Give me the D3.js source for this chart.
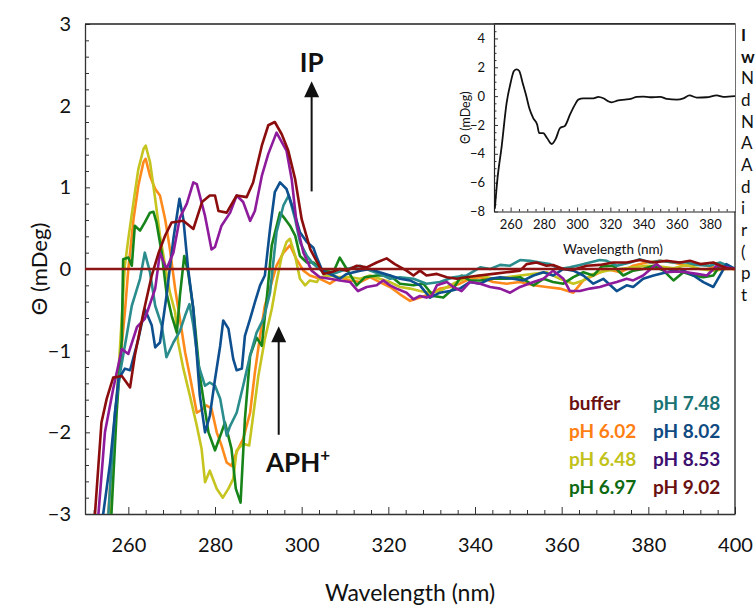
<!DOCTYPE html>
<html><head><meta charset="utf-8">
<script src="https://cdn.jsdelivr.net/npm/d3@7"></script>
<style>body{margin:0;background:#fff;overflow:hidden}svg{display:block}</style>
</head><body>
<svg id="c" width="756" height="605"></svg>
<script>
// ---------- data ----------
const seriesNames = ["buffer","pH 6.02","pH 6.48","pH 6.97","pH 7.48","pH 8.02","pH 8.53","pH 9.02"];
const xTicks = [260,280,300,320,340,360,380,400];
const yTicks = [-3,-2,-1,0,1,2,3];
const insetXTicks = [260,280,300,320,340,360,380];
const insetYTicks = [-8,-6,-4,-2,0,2,4];

const buffer = [[250,0],[400,0]];
const ph602 = [[254.9,-3.5],[255.4,-3],[256.5,-2.08],[258.1,-1.14],[259.2,-0.53],[260,0],[261.2,0.61],[262.3,1.02],[263.5,1.31],[264,1.35],[265,1.14],[266.2,0.98],[267.3,0.9],[268.5,0.61],[269.6,0.24],[270.8,-0.24],[271.9,-0.61],[273.1,-1.02],[274.2,-1.31],[275.8,-1.76],[277.3,-1.71],[278,-1.67],[279.2,-1.71],[280.4,-2],[281.5,-2.16],[282.7,-2.37],[283.8,-2.41],[285,-2.24],[286.5,-2.08],[288.1,-1.76],[289.2,-1.27],[290.4,-0.82],[291.5,-0.45],[293.1,-0.16],[294.2,0.04],[295.8,0.2],[297.3,0.29],[298.8,0.12],[300.4,-0.02],[301.9,-0.08],[304.2,-0.12],[306.5,-0.18],[308.8,-0.1],[311.2,-0.14],[313.5,-0.16],[315.8,-0.1],[318,-0.16],[320.4,-0.22],[322.7,-0.31],[325,-0.39],[327.3,-0.35],[329.6,-0.31],[331.9,-0.24],[334.2,-0.22],[336.5,-0.18],[338.8,-0.12],[341.2,-0.1],[344.2,-0.16],[347.3,-0.18],[350.4,-0.16],[353.5,-0.2],[356.5,-0.22],[359.6,-0.24],[362.7,-0.29],[365,-0.14],[367.3,-0.08],[370.4,0],[373.5,-0.04],[376.5,0.04],[379.6,0.08],[382.7,0.1],[385.8,0.08],[388.8,0.04],[391.9,0.06],[395,0.02],[398,0.01],[400,0]];
const ph648 = [[255.3,-3.5],[255.8,-3],[256.9,-1.96],[258.1,-0.94],[259.2,0.04],[260,0.37],[261.2,0.82],[262.3,1.22],[263.5,1.47],[264,1.51],[265,1.31],[266.2,0.86],[267.3,0.41],[268.5,0.04],[269.6,-0.29],[270.8,-0.53],[271.5,-0.9],[272.7,-1.22],[274.2,-1.55],[275.8,-1.92],[276.9,-2.2],[277.7,-2.61],[278.8,-2.47],[280.4,-2.69],[281.8,-2.8],[283.1,-2.69],[284.2,-2.57],[285,-2.22],[286.5,-2.14],[287.9,-2.16],[288.8,-1.8],[290,-1.31],[291.5,-0.86],[293.1,-0.49],[294.2,-0.16],[295.4,0.16],[296.5,0.33],[297.3,0.37],[298.5,0.16],[299.6,-0.12],[300.8,-0.2],[301.9,-0.14],[303.5,-0.16],[304.2,-0.1],[306.5,-0.08],[308.8,-0.1],[311.2,-0.1],[313.5,-0.12],[315.8,-0.08],[318,-0.12],[320.4,-0.16],[322.7,-0.22],[325,-0.24],[327.3,-0.27],[329.6,-0.29],[331.9,-0.27],[334.2,-0.2],[336.5,-0.14],[338.8,-0.1],[341.2,-0.08],[344.2,-0.12],[347.3,-0.1],[350.4,-0.08],[353.5,-0.06],[356.5,-0.04],[359.6,-0.12],[362.7,-0.18],[365,-0.14],[367.3,-0.06],[370.4,-0.02],[373.5,0],[376.5,0.02],[379.6,0.04],[382.7,0.03],[385.8,0.01],[388.8,0.05],[391.9,0],[395,-0.02],[398,0],[400,0]];
const ph697 = [[255.6,-3.5],[256.1,-3],[257.3,-1.76],[258.5,-0.86],[258.8,0.12],[260,0.14],[260.8,0.04],[261.5,0.53],[262.7,0.47],[263.8,0.57],[265,0.69],[265.8,0.7],[266.5,0.57],[267.7,0.2],[268.8,-0.29],[270,-0.57],[271.2,-0.78],[271.9,-0.33],[272.9,0.16],[273.8,-0.04],[275,-0.49],[276.5,-1.31],[278.5,-2],[280,-2.22],[281.5,-2],[282.3,-1.88],[283.8,-2.2],[284.8,-2.69],[285.9,-2.86],[286.9,-1.84],[288.1,-1.06],[289.6,-0.84],[290.8,-0.94],[292,-0.33],[293.1,0.29],[295,0.69],[296.2,0.61],[297.3,0.53],[298.5,0.41],[299.6,0.16],[301.2,0.08],[302.7,0.08],[305,-0.02],[307.3,-0.04],[308.8,0.14],[310.4,0],[312.7,-0.2],[314.6,-0.1],[317.3,-0.08],[320.4,-0.08],[322.7,-0.18],[325.8,-0.2],[328.1,-0.18],[330.4,-0.33],[332.7,-0.35],[335,-0.24],[336.9,-0.08],[338.8,-0.14],[341.2,-0.14],[344.2,-0.12],[347.3,-0.12],[350.4,-0.1],[353.5,-0.2],[355.8,-0.12],[358,-0.16],[360.4,-0.18],[362.7,-0.1],[365,-0.04],[367.3,-0.08],[369.2,0.03],[371.9,0.04],[374.2,-0.08],[376.5,-0.02],[378.8,0],[381.2,0.04],[383.5,-0.02],[385.8,-0.14],[388.1,-0.04],[390.4,-0.08],[392.7,-0.1],[395,-0.08],[396.5,0.04],[398.5,0.02],[400,0]];
const ph748 = [[254.9,-3.5],[255.4,-3],[256.9,-1.76],[258.1,-1.27],[259.6,-0.82],[260.8,-0.45],[261.5,-0.33],[262.7,-0.12],[263.8,0.2],[265,-0.04],[266.2,-0.45],[267.7,-0.69],[268.8,-1.08],[270.4,-0.9],[271.9,-0.76],[273.1,-0.57],[274.1,-0.43],[275,-0.69],[276.2,-1.18],[277.7,-1.43],[278.8,-1.39],[280,-1.43],[281.2,-1.59],[281.9,-1.8],[282.7,-2.04],[283.5,-1.92],[285,-1.76],[286.5,-1.43],[288.1,-1.06],[289.6,-0.78],[291.2,-0.61],[292.7,-0.29],[294.2,0.45],[295.8,0.78],[297,0.9],[298.5,0.61],[299.6,0.33],[301.2,0.16],[302.7,0.06],[305,-0.04],[307.3,-0.06],[310.4,0],[313.5,0.04],[315.8,-0.02],[318,-0.06],[320.4,-0.12],[322.7,-0.1],[325.8,-0.12],[328.8,-0.18],[331.9,-0.16],[335,-0.1],[338,-0.08],[341.2,0.02],[343.5,0],[345.8,0.05],[348.1,0.04],[350.4,0.11],[352.7,0.1],[355,0.08],[357.3,0.06],[359.6,0],[361.9,0.02],[364.2,0.05],[366.5,0.08],[368.8,0.11],[370.4,0.1],[372.7,0.04],[375.8,0.08],[378,0.12],[380.4,0.08],[382.7,0.1],[385.8,0.08],[388.8,0.08],[391.2,0.05],[394.2,0.04],[396.5,0.08],[398.8,0.03],[400,0]];
const ph802 = [[253.6,-3.5],[254.2,-3],[255.8,-2.37],[257.7,-1.35],[259.2,-1.22],[260.4,-1.24],[262.3,-0.86],[263.8,-0.49],[265.4,-0.69],[266.2,-0.96],[267.3,-0.9],[268.8,-0.33],[270.4,0.37],[271.8,0.86],[272.7,0.61],[273.8,0],[275,-0.49],[276.5,-1.55],[277.7,-2],[278.8,-1.8],[280,-1.35],[281.2,-0.94],[281.9,-0.63],[283.1,-0.73],[284.2,-1.1],[285,-1.24],[286.2,-1.22],[286.9,-0.82],[288.1,-0.61],[289.2,-0.41],[290.4,-0.2],[291.5,-0.08],[292.7,0.49],[293.8,0.94],[295,1.06],[296.5,0.98],[298.1,0.73],[299.6,0.45],[301.2,0.33],[302.7,0.26],[303.5,0.14],[304.6,0],[305.5,-0.04],[307.3,-0.08],[308.8,-0.12],[310.4,-0.06],[313.5,-0.02],[315.8,0],[318,-0.04],[320.4,-0.08],[322.7,-0.12],[325,-0.14],[327.3,-0.2],[329.6,-0.35],[331.9,-0.29],[334.2,-0.27],[336.5,-0.24],[338.8,-0.16],[341.2,-0.18],[343.5,-0.12],[345.8,-0.1],[348.8,-0.12],[351.2,-0.14],[353.5,-0.08],[355.8,-0.04],[358,-0.08],[360.4,0],[362.7,-0.02],[365,-0.08],[367.3,-0.18],[369.6,-0.12],[372.7,-0.27],[375,-0.2],[376.5,-0.22],[378.8,-0.12],[381.2,-0.08],[384.2,-0.04],[387.3,0],[390.4,-0.08],[392.7,-0.16],[395,-0.22],[396.5,-0.08],[398,0.06],[400,0]];
const ph853 = [[252.6,-3.5],[253.1,-3],[254.6,-2],[256.5,-1.47],[258.5,-0.98],[260,-1.04],[262,-0.71],[263.8,-0.61],[264.6,-0.49],[266.2,-0.24],[267.3,0.2],[268.8,0],[270.4,0.2],[271.9,0.63],[273.5,0.8],[275,1.06],[275.8,1.04],[277.7,0.65],[279.2,0.24],[280,0.27],[281.5,0.53],[283.5,0.69],[285,0.9],[286.5,0.82],[288.1,0.59],[289.2,0.71],[290.8,1.14],[292.3,1.41],[294.2,1.67],[296.5,1.45],[297.7,1.1],[298.8,0.57],[300.4,0.2],[302.3,-0.02],[304.2,-0.1],[306.5,-0.12],[308.8,-0.14],[311.2,-0.16],[313,-0.27],[315,-0.22],[317.3,-0.2],[318.8,-0.14],[320.4,-0.2],[321.9,-0.24],[324.2,-0.29],[325.8,-0.37],[327.3,-0.33],[328.8,-0.35],[330,-0.33],[331.2,-0.2],[333.5,-0.16],[335,-0.22],[336.9,-0.27],[338.8,-0.16],[341.2,-0.18],[343.5,-0.22],[345.8,-0.24],[348.1,-0.29],[350.4,-0.22],[353.5,-0.16],[355.8,-0.12],[358,-0.02],[360.4,-0.12],[361.9,-0.27],[364.2,-0.27],[366.5,-0.24],[368.8,-0.22],[371.2,-0.18],[372.7,-0.16],[375,-0.12],[376.5,-0.14],[378.8,-0.08],[381.9,0.06],[384.2,-0.04],[386.5,-0.03],[388.8,-0.04],[391.2,-0.06],[393.5,-0.08],[395.8,0.04],[398,0.02],[400,0]];
const ph902 = [[251.6,-3.5],[252.3,-3],[253.8,-1.88],[255,-1.59],[256.5,-1.33],[258.5,-1.31],[260.4,-1.45],[261.5,-1.06],[263.5,-0.53],[265.4,-0.08],[267,0.2],[268.5,0.41],[270,0.57],[272.7,0.59],[275,0.49],[277,0.82],[278.8,0.9],[280,0.9],[280.8,0.71],[282.7,0.69],[285,0.9],[287.3,0.88],[288.8,1.06],[290.8,1.51],[292.3,1.76],[293.8,1.8],[295.4,1.65],[296.9,1.45],[298.5,1.1],[300,0.61],[302,0.24],[304.2,0.02],[305,-0.06],[307.3,-0.03],[308.8,0],[310.4,-0.02],[312.7,0.04],[315,0.02],[317.3,0.08],[319.6,0.13],[321.5,0.06],[324.2,-0.02],[325.8,-0.08],[327.3,-0.02],[328.8,-0.08],[331.2,-0.06],[333.5,-0.1],[335.8,-0.12],[338,-0.1],[341,-0.08],[344.2,-0.06],[347.3,-0.04],[350.4,-0.02],[351.9,0.06],[354.2,0.08],[356.5,0.04],[358,0.05],[360.4,0],[362.7,-0.01],[365.8,0.04],[368.8,0.05],[371.9,0.08],[375,0.08],[378,0.11],[381.2,0.08],[384.2,0.1],[387.3,0.08],[389.6,0.1],[392,0.06],[395,0.08],[398,0.01],[400,0]];
const insetCurve = [[250.5,-7.81],[252,-5.83],[254.6,-3.5],[257.6,-0.47],[260,0.93],[262,1.74],[263.6,1.86],[265.2,1.74],[267.2,0.93],[269.2,0.11],[271.2,-0.82],[273.6,-1.52],[276,-1.99],[277.2,-2.57],[279.6,-2.57],[282,-2.92],[284.7,-3.32],[287.3,-2.92],[289.7,-2.22],[292.7,-2.06],[295.7,-1.29],[298.7,-0.59],[300.7,-0.24],[303.8,-0.15],[309.8,-0.15],[312.8,-0.05],[315.8,-0.15],[318.8,-0.36],[320.8,-0.43],[324.8,-0.29],[328.8,-0.24],[332.8,-0.17],[335.9,-0.05],[339.9,-0.03],[343.9,-0.08],[350,-0.05],[354,-0.19],[360,-0.24],[364,-0.15],[367.6,0.05],[372,-0.1],[378,-0.08],[384,0.05],[388,-0.05],[395,0]];

const lineColors = {"buffer":"#8c1515","pH 6.02":"#ff8a1c","pH 6.48":"#c6c41f","pH 6.97":"#17841a","pH 7.48":"#2a8c8c","pH 8.02":"#0d4f8f","pH 8.53":"#8e1a9c","pH 9.02":"#8b0d0d"};
const legendColors = {"buffer":"#6a1010","pH 6.02":"#ff7f14","pH 6.48":"#c2c21a","pH 6.97":"#0e6a12","pH 7.48":"#1a7373","pH 8.02":"#0f4a82","pH 8.53":"#3d1070","pH 9.02":"#6a1010"};
const seriesData = {"buffer":buffer,"pH 6.02":ph602,"pH 6.48":ph648,"pH 6.97":ph697,"pH 7.48":ph748,"pH 8.02":ph802,"pH 8.53":ph853,"pH 9.02":ph902};
const sideLetters = [["I",true],["w",true],["N",false],["d",false],["N",false],["A",false],["A",false],["d",false],["i",false],["r",false],["(",false],["p",false],["t",false]];

// ---------- drawing ----------
const FONT = "Lato, 'Open Sans', sans-serif";
const svg = d3.select("#c");
const L=85, R=735, T=24, B=514;
const x = d3.scaleLinear().domain([250,400]).range([L,R]);
const y = d3.scaleLinear().domain([-3,3]).range([B,T]);

svg.append("defs").append("clipPath").attr("id","clipMain")
  .append("rect").attr("x",L).attr("y",T).attr("width",R-L).attr("height",B-T);

// minor ticks
const xMinor = d3.range(252,400.01,4).filter(v=>v%20!==0);
const yMinor = d3.range(-30,31,2).map(v=>v/10).filter(v=>Math.abs(v-Math.round(v))>1e-6);
svg.append("g").attr("transform",`translate(0,${B})`)
  .call(d3.axisBottom(x).tickValues(xMinor).tickSize(-4).tickFormat(""))
  .call(g=>g.select(".domain").remove())
  .selectAll("line").attr("stroke","#333");
svg.append("g").attr("transform",`translate(${L},0)`)
  .call(d3.axisLeft(y).tickValues(yMinor).tickSize(-4).tickFormat(""))
  .call(g=>g.select(".domain").remove())
  .selectAll("line").attr("stroke","#333");

// major axes
const gx = svg.append("g").attr("transform",`translate(0,${B})`)
  .call(d3.axisBottom(x).tickValues(xTicks).tickSize(-7).tickPadding(24).tickSizeOuter(0));
gx.selectAll("text").attr("font-family",FONT).attr("font-size",20).attr("fill","#111");
gx.select(".domain").attr("stroke","#333").attr("stroke-width",1.3);
gx.selectAll("line").attr("stroke","#333");
const gy = svg.append("g").attr("transform",`translate(${L},0)`)
  .call(d3.axisLeft(y).tickValues(yTicks).tickSize(-5).tickPadding(14).tickSizeOuter(0).tickFormat(d3.format("d")));
gy.selectAll("text").attr("font-family",FONT).attr("font-size",20).attr("fill","#111");
gy.select(".domain").attr("stroke","#333").attr("stroke-width",1.3);
gy.selectAll("line").attr("stroke","#333");
// frame top/right
svg.append("path").attr("d",`M${L},${T}H${R}V${B}`).attr("fill","none").attr("stroke","#222").attr("stroke-width",1.3);

// axis titles
svg.append("text").attr("x",410).attr("y",601).attr("text-anchor","middle")
  .attr("font-family",FONT).attr("font-size",23).attr("fill","#111").text("Wavelength (nm)");
svg.append("text").attr("transform",`translate(47,${(T+B)/2}) rotate(-90)`).attr("text-anchor","middle")
  .attr("font-family",FONT).attr("font-size",22).attr("fill","#111").text("Θ (mDeg)");

// lines
const line = d3.line().x(d=>x(d[0])).y(d=>y(d[1]));
const gl = svg.append("g").attr("clip-path","url(#clipMain)");
const drawOrder = ["pH 6.02","pH 6.48","pH 6.97","pH 7.48","pH 8.02","pH 8.53","pH 9.02","buffer"];
drawOrder.forEach(n=>{
  gl.append("path").datum(seriesData[n]).attr("d",line)
    .attr("fill","none").attr("stroke",lineColors[n]).attr("stroke-width",2.6)
    .attr("stroke-linejoin","round");
});

// arrows
function arrow(xv, yTopV, yBotV){
  const ax = x(xv), yt = y(yTopV), yb = y(yBotV);
  svg.append("line").attr("x1",ax).attr("x2",ax).attr("y1",yb).attr("y2",yt+14)
    .attr("stroke","#111").attr("stroke-width",2);
  svg.append("path").attr("d",`M${ax},${yt}L${ax-7.5},${yt+16}L${ax+7.5},${yt+16}Z`).attr("fill","#111");
}
arrow(302.3, 2.3, 0.95);
arrow(294.7, -0.7, -2.03);
svg.append("text").attr("x",x(302.3)).attr("y",72).attr("text-anchor","middle")
  .attr("font-family",FONT).attr("font-weight",700).attr("font-size",26).attr("fill","#111").text("IP");
const aph = svg.append("text").attr("x",266).attr("y",472)
  .attr("font-family",FONT).attr("font-weight",700).attr("font-size",26).attr("fill","#111");
aph.append("tspan").text("APH");
aph.append("tspan").attr("dy",-11).attr("font-size",17).text("+");

// legend
const legCols = [["buffer","pH 6.02","pH 6.48","pH 6.97"],["pH 7.48","pH 8.02","pH 8.53","pH 9.02"]];
const legX = [569,653];
legCols.forEach((col,ci)=>col.forEach((n,ri)=>{
  svg.append("text").attr("x",legX[ci]).attr("y",410+ri*28)
    .attr("font-family",FONT).attr("font-weight",700).attr("font-size",19)
    .attr("fill",legendColors[n]).text(n);
}));

// inset
const iL=494, iR=735, iT=24, iB=211.5;
const ix = d3.scaleLinear().domain([250,395]).range([iL,iR]);
const iy = d3.scaleLinear().domain([-8,5]).range([iB,iT]);
svg.append("rect").attr("x",iL).attr("y",iT).attr("width",iR-iL).attr("height",iB-iT).attr("fill","#fff");
svg.append("defs").append("clipPath").attr("id","clipInset")
  .append("rect").attr("x",iL).attr("y",iT).attr("width",iR-iL).attr("height",iB-iT);
const ixMinor = d3.range(255,395,5).filter(v=>v%20!==0);
const iyMinor = d3.range(-80,50,5).map(v=>v/10).filter(v=>Math.abs(v/2-Math.round(v/2))>1e-6);
svg.append("g").attr("transform",`translate(0,${iB})`)
  .call(d3.axisBottom(ix).tickValues(ixMinor).tickSize(-2.5).tickFormat(""))
  .call(g=>g.select(".domain").remove()).selectAll("line").attr("stroke","#333");
svg.append("g").attr("transform",`translate(${iL},0)`)
  .call(d3.axisLeft(iy).tickValues(iyMinor).tickSize(-2.5).tickFormat(""))
  .call(g=>g.select(".domain").remove()).selectAll("line").attr("stroke","#333");
const igx = svg.append("g").attr("transform",`translate(0,${iB})`)
  .call(d3.axisBottom(ix).tickValues(insetXTicks).tickSize(-4).tickPadding(8).tickSizeOuter(0));
igx.selectAll("text").attr("font-family",FONT).attr("font-size",13).attr("fill","#111");
igx.select(".domain").attr("stroke","#222").attr("stroke-width",1.2);
igx.selectAll("line").attr("stroke","#333");
const igy = svg.append("g").attr("transform",`translate(${iL},0)`)
  .call(d3.axisLeft(iy).tickValues(insetYTicks).tickSize(-4).tickPadding(9).tickSizeOuter(0).tickFormat(d3.format("d")));
igy.selectAll("text").attr("font-family",FONT).attr("font-size",13).attr("fill","#111");
igy.select(".domain").attr("stroke","#222").attr("stroke-width",1.2);
igy.selectAll("line").attr("stroke","#333");
svg.append("text").attr("x",613).attr("y",254).attr("text-anchor","middle")
  .attr("font-family",FONT).attr("font-size",13.5).attr("fill","#111").text("Wavelength (nm)");
svg.append("text").attr("transform",`translate(470,${(iT+iB)/2}) rotate(-90)`).attr("text-anchor","middle")
  .attr("font-family",FONT).attr("font-size",12.5).attr("fill","#111").text("Θ (mDeg)");
const iline = d3.line().x(d=>ix(d[0])).y(d=>iy(d[1])).curve(d3.curveMonotoneX);
svg.append("path").datum(insetCurve).attr("d",iline).attr("clip-path","url(#clipInset)")
  .attr("fill","none").attr("stroke","#111").attr("stroke-width",1.8);
svg.append("path").attr("d",`M${iL},${iT}H${iR}`).attr("stroke","#222").attr("stroke-width",1.3);

// side text at the right edge
sideLetters.forEach((s,i)=>{
  svg.append("text").attr("x",741).attr("y",41+i*21.67)
    .attr("font-family",FONT).attr("font-size",17).attr("font-weight",s[1]?700:400)
    .attr("fill","#111").text(s[0]);
});
</script>
</body></html>
